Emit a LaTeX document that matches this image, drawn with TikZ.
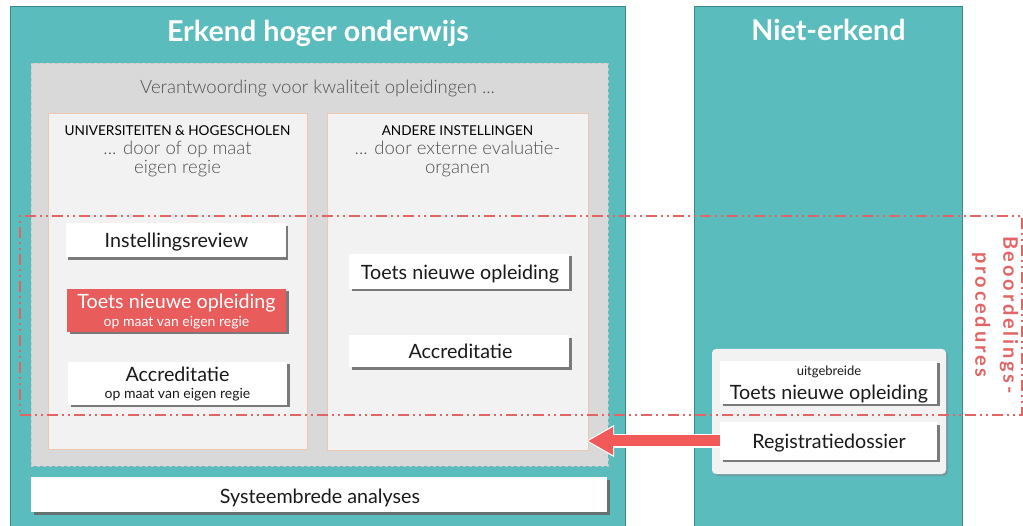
\documentclass[tikz,border=0pt]{standalone}
\usepackage{fontspec}
\setmainfont{Lato}
\newfontfamily\spacedfont[LetterSpace=14]{Lato Bold}
\IfFontExistsTF{Lato Light}{\newfontfamily\lightfont{Lato Light}}{\newfontfamily\lightfont{Lato}}
\usetikzlibrary{shadows,arrows.meta}
\definecolor{tealc}{HTML}{5BBCBD}
\definecolor{tealb}{HTML}{3D8A8B}
\definecolor{grayb}{HTML}{D9D9D9}
\definecolor{innerf}{HTML}{F2F2F2}
\definecolor{peach}{HTML}{EDC7B0}
\definecolor{redc}{HTML}{E85C5C}
\definecolor{redd}{HTML}{E36464}
\definecolor{arrowc}{HTML}{F25A5A}
\definecolor{txtg}{HTML}{505050}
\definecolor{txtd}{HTML}{1A1A1A}
\begin{document}
\begin{tikzpicture}[x=1pt,y=-1pt,
  every node/.style={inner sep=0pt, outer sep=0pt},
  panel/.style={draw=tealb, line width=0.8pt, fill=tealc},
  titletext/.style={text=white, font=\fontsize{28.7}{31}\selectfont\bfseries, anchor=base},
  graybox/.style={draw=gray!45, dashed, line width=0.4pt, fill=grayb},
  innerbox/.style={draw=peach, line width=0.8pt, fill=innerf},
  card/.style={fill=white, drop shadow={shadow xshift=2.5pt, shadow yshift=-2.5pt, fill=black!60, opacity=0.85}},
  redcard/.style={fill=redc, drop shadow={shadow xshift=2.5pt, shadow yshift=-2.5pt, fill=black!60, opacity=0.85}},
  maintext/.style={anchor=base, text=txtd, font=\fontsize{19.7}{22}\selectfont},
  smalltext/.style={anchor=base, text=txtd, font=\fontsize{14}{16}\selectfont},
  headtext/.style={anchor=base, text=black, font=\fontsize{13.6}{15}\selectfont},
  subtext/.style={anchor=base, text=txtg, font=\lightfont\fontsize{18.5}{20}\selectfont},
]
\useasboundingbox (0,0) rectangle (1023,526);
\fill[white] (0,0) rectangle (1023,526);

% panels
\node[panel, minimum width=615pt, minimum height=524pt] (erk) at (317.5,268) {};
\node[panel, minimum width=268pt, minimum height=524pt] (ne) at (828,268) {};
\node[titletext] (t1) at (318,42) {Erkend hoger onderwijs};
\node[titletext] (t2) at (828.5,41) {Niet-erkend};

% gray box
\node[graybox, minimum width=577pt, minimum height=403pt] (gb) at (319.5,264.5) {};
\node[anchor=base, text=txtg, font=\lightfont\fontsize{18.5}{20}\selectfont] (vt) at (317.5,94) {Verantwoording voor kwaliteit opleidingen ...};

% inner boxes
\node[innerbox, minimum width=259pt, minimum height=336pt] (il) at (177.5,281) {};
\node[innerbox, minimum width=261pt, minimum height=337pt] (ir) at (457.5,281.5) {};
\node[headtext] (ilh) at (177.5,136) {UNIVERSITEITEN \& HOGESCHOLEN};
\node[subtext] (ils1) at (177.5,155) {... door of op maat};
\node[subtext] (ils2) at (177.5,174) {eigen regie};
\node[headtext] (irh) at (457.5,136) {ANDERE INSTELLINGEN};
\node[subtext] (irs1) at (457.5,155) {... door externe evaluatie-};
\node[subtext] (irs2) at (457.5,174) {organen};

% cards left
\node[card, minimum width=220pt, minimum height=34pt] (c1) at (175.5,240.5) {};
\node[maintext] (c1t) at (176.5,248) {Instellingsreview};
\node[redcard, minimum width=219pt, minimum height=43pt] (c2) at (176.5,310.5) {};
\node[maintext, text=white] (c2a) at (176.5,309) {Toets nieuwe opleiding};
\node[smalltext, text=white] (c2b) at (176.5,327) {op maat van eigen regie};
\node[card, minimum width=219pt, minimum height=43pt] (c3) at (177.5,383.5) {};
\node[maintext] (c3a) at (177.5,382) {Accreditatie};
\node[smalltext] (c3b) at (177.5,399) {op maat van eigen regie};

% cards right
\node[card, minimum width=220pt, minimum height=35pt] (c4) at (459,271.5) {};
\node[maintext] (c4t) at (460,280) {Toets nieuwe opleiding};
\node[card, minimum width=220pt, minimum height=32pt] (c5) at (459,351.5) {};
\node[maintext] (c5t) at (460.5,359) {Accreditatie};

% system box
\node[card, minimum width=576pt, minimum height=35pt] (sys) at (319,494.5) {};
\node[maintext] (syst) at (320,503) {Systeembrede analyses};

% niet-erkend group
\node[fill=innerf, rounded corners=4pt, minimum width=234pt, minimum height=125pt,
      drop shadow={shadow xshift=2pt, shadow yshift=-2pt, fill=black!50, opacity=0.5}] (rg) at (829,411.5) {};
\node[card, minimum width=217pt, minimum height=43pt] (c6) at (828.5,382.5) {};
\node[smalltext, font=\fontsize{13}{15}\selectfont] (c6a) at (829,376) {uitgebreide};
\node[maintext] (c6b) at (829,400) {Toets nieuwe opleiding};
\node[card, minimum width=217pt, minimum height=37pt] (c7) at (828.5,441) {};
\node[maintext] (c7t) at (829,449) {Registratiedossier};

% arrow
\draw[white, line width=14pt, -{Triangle[width=30pt,length=28pt]}, shorten >=-2pt] (c7.west) -- (c7.west -| ir.east);
\draw[arrowc, line width=11pt, -{Triangle[width=26pt,length=25pt]}] (c7.west) -- (c7.west -| ir.east);

% beoordelingsprocedures frame
\node[draw=redd, line width=1.8pt, dash pattern=on 11pt off 4pt on 2pt off 4pt on 2pt off 4pt,
      minimum width=1002pt, minimum height=199pt] (bp) at (521,315.5) {};
\node[rotate=-90, align=center, text=redd, font=\spacedfont\fontsize{20}{28}\selectfont] (bpl) at (995,315) {Beoordelings-\\procedures};
\end{tikzpicture}
\end{document}
